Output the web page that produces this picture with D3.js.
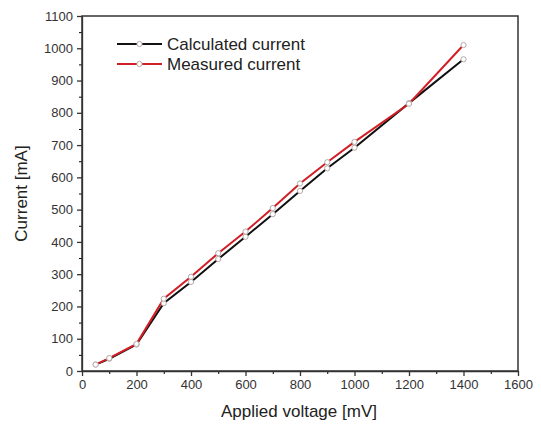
<!DOCTYPE html>
<html>
<head>
<meta charset="utf-8">
<script src="https://cdn.jsdelivr.net/npm/d3@7"></script>
<style>
body { margin: 0; background: #fff; }
text { font-family: "Liberation Sans", Arial, sans-serif; fill: #222; }
</style>
</head>
<body>
<script>
var voltages = [50, 100, 200, 300, 400, 500, 600, 700, 800, 900, 1000, 1200, 1400];
var calculated = [20, 38, 82, 210, 276, 347, 416, 486, 558, 628, 692, 830, 966];
var measured = [20, 40, 84, 224, 292, 365, 432, 505, 581, 647, 710, 828, 1010];
var seriesNames = ["Calculated current", "Measured current"];
var seriesColors = ["#111111", "#d11f26"];
var xTicks = [0, 200, 400, 600, 800, 1000, 1200, 1400, 1600];
var yTicks = [0, 100, 200, 300, 400, 500, 600, 700, 800, 900, 1000, 1100];

var margin = {left: 82, right: 23, top: 16, bottom: 56};
var width = 541 - margin.left - margin.right;
var height = 427 - margin.top - margin.bottom;

var x = d3.scaleLinear().domain([0, 1600]).range([0, width]);
var y = d3.scaleLinear().domain([0, 1100]).range([height, 0]);

var svg = d3.select("body").append("svg").attr("width", 541).attr("height", 427);
var g = svg.append("g").attr("transform", "translate(" + margin.left + "," + margin.top + ")");

// minor ticks
g.append("g").attr("transform", "translate(0," + height + ")")
  .call(d3.axisBottom(x).tickValues(d3.range(100, 1600, 200)).tickSize(3).tickFormat(""))
  .call(function(a){ a.select(".domain").remove(); });
g.append("g")
  .call(d3.axisLeft(y).tickValues(d3.range(50, 1100, 100)).tickSize(3).tickFormat(""))
  .call(function(a){ a.select(".domain").remove(); });

var fmt = d3.format("d");
var xAxis = g.append("g").attr("transform", "translate(0," + height + ")")
  .call(d3.axisBottom(x).tickValues(xTicks).tickFormat(fmt).tickSize(5).tickPadding(4).tickSizeOuter(0));
var yAxis = g.append("g")
  .call(d3.axisLeft(y).tickValues(yTicks).tickFormat(fmt).tickSize(5).tickPadding(4).tickSizeOuter(0));
[xAxis, yAxis].forEach(function(a){
  a.selectAll("text").style("font-size", "13px").style("fill", "#333");
  a.selectAll("line,path").attr("stroke", "#333").attr("stroke-width", 1.3);
});

// frame
g.append("rect").attr("width", width).attr("height", height)
  .attr("fill", "none").attr("stroke", "#333").attr("stroke-width", 1.5);

var series = [calculated, measured];
var line = d3.line().x(function(d, i){ return x(voltages[i]); }).y(function(d){ return y(d); });

series.forEach(function(s, k){
  g.append("path").attr("d", line(s)).attr("fill", "none")
    .attr("stroke", seriesColors[k]).attr("stroke-width", 2);
});
series.forEach(function(s, k){
  g.selectAll(".m" + k).data(s).enter().append("circle")
    .attr("cx", function(d, i){ return x(voltages[i]); })
    .attr("cy", function(d){ return y(d); })
    .attr("r", 2.6).attr("fill", "#fff").attr("stroke", "#b5a8a8").attr("stroke-width", 1);
});

// legend
var legend = g.append("g").attr("transform", "translate(35,28)");
seriesNames.forEach(function(n, k){
  var row = legend.append("g").attr("transform", "translate(0," + (k * 20) + ")");
  row.append("line").attr("x1", 0).attr("x2", 45).attr("stroke", seriesColors[k]).attr("stroke-width", 2);
  row.append("circle").attr("cx", 22.5).attr("r", 2.6).attr("fill", "#fff")
    .attr("stroke", "#b5a8a8").attr("stroke-width", 1);
  row.append("text").attr("x", 50).attr("dy", "0.35em").style("font-size", "17px").text(n);
});

// axis titles
svg.append("text").attr("x", margin.left + width / 2 - 1).attr("y", 417)
  .attr("text-anchor", "middle").style("font-size", "17px").text("Applied voltage [mV]");
svg.append("text").attr("transform", "translate(27," + (margin.top + height / 2) + ") rotate(-90)")
  .attr("text-anchor", "middle").style("font-size", "17px").text("Current [mA]");
</script>
</body>
</html>
